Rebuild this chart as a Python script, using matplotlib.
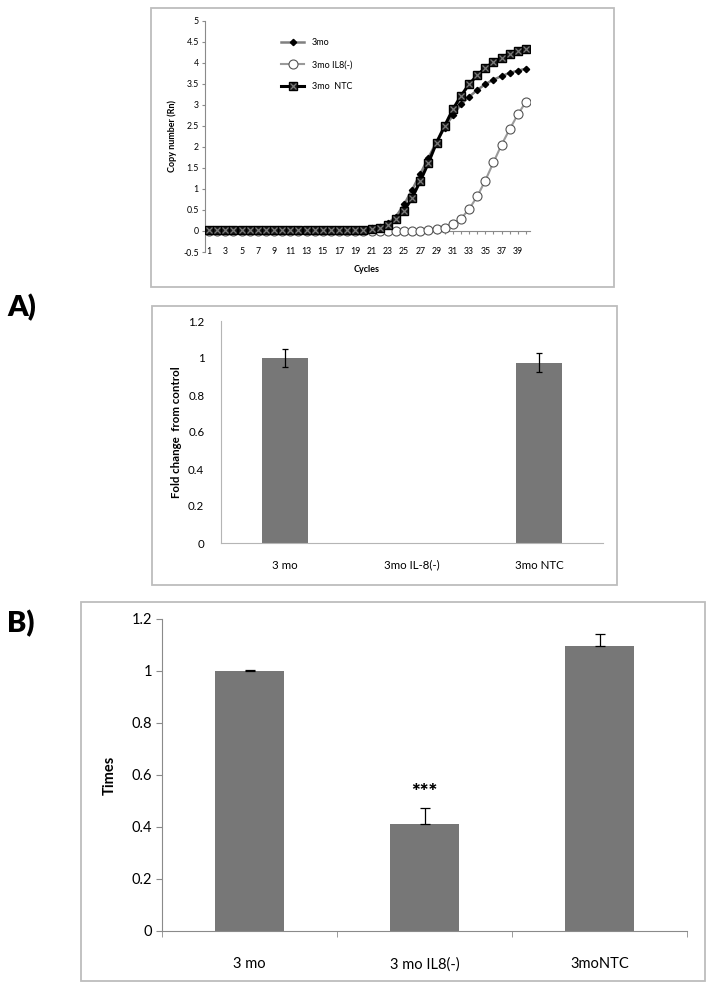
import matplotlib
matplotlib.use('Agg')
import matplotlib.pyplot as plt
from matplotlib.patches import Rectangle
from matplotlib.lines import Line2D
from matplotlib.legend_handler import HandlerTuple

plt.rcParams['font.family'] = ['Lato', 'DejaVu Sans']

# ---------------- data ----------------
cycles = list(range(1, 41))
cycle_labels = [str(c) for c in range(1, 40, 2)]
series_3mo = [0.02, 0.02, 0.02, 0.02, 0.02, 0.02, 0.02, 0.02, 0.02, 0.02,
              0.02, 0.02, 0.02, 0.02, 0.02, 0.02, 0.02, 0.02, 0.02, 0.03,
              0.06, 0.10, 0.18, 0.34, 0.63, 0.98, 1.36, 1.74, 2.12, 2.46,
              2.75, 3.01, 3.19, 3.35, 3.49, 3.60, 3.68, 3.76, 3.81, 3.86]
series_il8 = [0.01, 0.01, 0.01, 0.01, 0.01, 0.01, 0.01, 0.01, 0.01, 0.01,
              0.01, 0.01, 0.01, 0.01, 0.01, 0.01, 0.01, 0.01, 0.01, 0.01,
              0.0, 0.0, 0.0, 0.0, 0.0, 0.0, 0.01, 0.02, 0.05, 0.08,
              0.16, 0.29, 0.52, 0.82, 1.20, 1.63, 2.05, 2.42, 2.77, 3.07]
series_ntc = [0.02, 0.02, 0.02, 0.02, 0.02, 0.02, 0.02, 0.02, 0.02, 0.02,
              0.02, 0.02, 0.02, 0.02, 0.02, 0.02, 0.02, 0.02, 0.02, 0.03,
              0.05, 0.08, 0.14, 0.28, 0.48, 0.79, 1.19, 1.62, 2.10, 2.50,
              2.89, 3.21, 3.49, 3.70, 3.88, 4.01, 4.12, 4.22, 4.28, 4.33]
series_names = ['3mo', '3mo IL8(-)', '3mo  NTC']

mid_cats = ['3 mo', '3mo IL-8(-)', '3mo NTC']
mid_vals = [1.0, 0.0, 0.975]
mid_err = [0.048, 0.0, 0.05]

bot_cats = ['3 mo', '3 mo IL8(-)', '3moNTC']
bot_vals = [1.0, 0.41, 1.097]
bot_err_up = [0.002, 0.062, 0.045]
bot_sig = ['', '***', '']

# ---------------- figure ----------------
W, H = 714, 991
fig = plt.figure(figsize=(W / 100, H / 100), dpi=100)

def fx(px):
    return px / W

def fy(py):
    return 1 - py / H

frame_col = '#bdbdbd'
axis_col = '#8a8a8a'
bar_col = '#777777'

# panel frames
for (x0, y0, x1, y1) in [(151, 8, 614, 287), (152, 306, 617, 585), (81, 602, 705, 981)]:
    fig.patches.append(Rectangle((fx(x0), fy(y1)), fx(x1) - fx(x0), fy(y0) - fy(y1),
                                 transform=fig.transFigure, fill=False,
                                 edgecolor=frame_col, lw=1.3))

# panel letters
fig.text(fx(7), fy(308), 'A)', fontsize=21, fontweight='heavy', va='center', ha='left')
fig.text(fx(7), fy(624), 'B)', fontsize=21, fontweight='heavy', va='center', ha='left')

# ---------------- top: amplification curves ----------------
ax1 = fig.add_axes([fx(205), fy(252), fx(530) - fx(205), fy(20.7) - fy(252)])
ax1.set_xlim(0.5, 40.5)
ax1.set_ylim(-0.5, 5)

ax1.plot(cycles, series_3mo, color='#808080', lw=1.8, marker='D', ms=3.2,
         mfc='black', mec='black', zorder=3)
ax1.plot(cycles, series_il8, color='#9a9a9a', lw=1.5, marker='o', ms=6.5,
         mfc='white', mec='#555555', mew=0.8, zorder=3)
ax1.plot(cycles, series_ntc, color='black', lw=2.2, marker='s', ms=6,
         mfc='#1a1a1a', mec='black', zorder=4)
ax1.plot(cycles, series_ntc, ls='none', marker='x', ms=5, mec='#7a7a7a',
         mew=0.9, zorder=5)

for side in ['top', 'right', 'bottom']:
    ax1.spines[side].set_visible(False)
ax1.spines['left'].set_color(axis_col)
ax1.set_yticks([-0.5, 0, 0.5, 1, 1.5, 2, 2.5, 3, 3.5, 4, 4.5, 5])
ax1.set_yticklabels(['-0.5', '0', '0.5', '1', '1.5', '2', '2.5', '3', '3.5', '4', '4.5', '5'])
ax1.tick_params(axis='y', length=2.5, color=axis_col, labelsize=6.3, pad=2)
ax1.set_xticks(list(range(1, 40, 2)))
ax1.set_xticklabels(cycle_labels)
ax1.tick_params(axis='x', length=0, labelsize=6.3, pad=0)
for lab in ax1.get_xticklabels():
    lab.set_va('center')

zero_loc = (0 - (-0.5)) / 5.5
sec = ax1.secondary_xaxis(zero_loc)
sec.set_xticks(cycles)
sec.tick_params(axis='x', length=2, color=axis_col, labelbottom=False, direction='out')
sec.spines['bottom'].set_color(axis_col)

fig.text(fx(367), fy(270), 'Cycles', fontsize=6.5, fontweight='bold', ha='center', va='center')
fig.text(fx(172), fy(136), 'Copy number (Rn)', fontsize=6.5, fontweight='bold',
         ha='center', va='center', rotation=90)

h1 = Line2D([], [], color='#808080', lw=1.8, marker='D', ms=3.2, mfc='black', mec='black')
h2 = Line2D([], [], color='#9a9a9a', lw=1.5, marker='o', ms=6.5, mfc='white', mec='#555555', mew=0.8)
h3a = Line2D([], [], color='black', lw=2.2, marker='s', ms=6, mfc='#1a1a1a', mec='black')
h3b = Line2D([], [], ls='none', marker='x', ms=5, mec='#7a7a7a', mew=0.9)
ax1.legend([h1, h2, (h3a, h3b)], series_names,
           handler_map={tuple: HandlerTuple(ndivide=1)},
           loc='upper left', bbox_to_anchor=(fx(281), fy(38)),
           bbox_transform=fig.transFigure, frameon=False, fontsize=6.5,
           handlelength=2.6, labelspacing=1.45, borderpad=0, borderaxespad=0,
           handletextpad=0.8)

# ---------------- middle: fold change ----------------
ax2 = fig.add_axes([fx(221), fy(543), fx(603) - fx(221), fy(321) - fy(543)])
xpos = list(range(len(mid_cats)))
ax2.bar(xpos, mid_vals, width=0.36, color=bar_col, zorder=2)
err_x = [x for x, e in zip(xpos, mid_err) if e > 0]
err_y = [v for v, e in zip(mid_vals, mid_err) if e > 0]
err_e = [e for e in mid_err if e > 0]
ax2.errorbar(err_x, err_y, yerr=err_e, fmt='none', ecolor='black', elinewidth=0.9,
             capsize=2.5, capthick=0.9, zorder=3)
ax2.set_xlim(-0.5, 2.5)
ax2.set_ylim(0, 1.2)
ax2.set_yticks([0, 0.2, 0.4, 0.6, 0.8, 1.0, 1.2])
ax2.set_yticklabels(['0', '0.2', '0.4', '0.6', '0.8', '1', '1.2'])
ax2.set_xticks(xpos)
ax2.set_xticklabels(mid_cats)
ax2.tick_params(axis='y', length=0, labelsize=8.3, pad=12)
ax2.tick_params(axis='x', length=0, labelsize=8.3, pad=12)
for side in ['top', 'right']:
    ax2.spines[side].set_visible(False)
ax2.spines['left'].set_color('#b5b5b5')
ax2.spines['bottom'].set_color('#b5b5b5')
fig.text(fx(176), fy(432), 'Fold change  from control', fontsize=8.3, fontweight='bold',
         ha='center', va='center', rotation=90)

# ---------------- bottom: times ----------------
ax3 = fig.add_axes([fx(162), fy(931), fx(687) - fx(162), fy(619) - fy(931)])
xpos3 = list(range(len(bot_cats)))
ax3.bar(xpos3, bot_vals, width=0.39, color=bar_col, zorder=2)
ax3.errorbar(xpos3, bot_vals, yerr=[[0, 0, 0], bot_err_up], fmt='none', ecolor='black',
             elinewidth=0.9, capsize=3.5, capthick=0.9, zorder=3)
for x, v, e, s in zip(xpos3, bot_vals, bot_err_up, bot_sig):
    if s:
        ax3.text(x, v + e + 0.025, s, ha='center', va='bottom', fontsize=15,
                 fontweight='heavy')
ax3.set_xlim(-0.5, 2.5)
ax3.set_ylim(0, 1.2)
ax3.set_yticks([0, 0.2, 0.4, 0.6, 0.8, 1.0, 1.2])
ax3.set_yticklabels(['0', '0.2', '0.4', '0.6', '0.8', '1', '1.2'])
ax3.set_xticks(xpos3)
ax3.set_xticklabels(bot_cats)
ax3.set_xticks([-0.5, 0.5, 1.5, 2.5], minor=True)
ax3.tick_params(axis='y', length=4, color=axis_col, labelsize=10.5, pad=3)
ax3.tick_params(axis='x', which='major', length=0, labelsize=10.5, pad=19)
ax3.tick_params(axis='x', which='minor', length=4, color=axis_col)
for side in ['top', 'right']:
    ax3.spines[side].set_visible(False)
ax3.spines['left'].set_color(axis_col)
ax3.spines['bottom'].set_color(axis_col)
fig.text(fx(110), fy(775), 'Times', fontsize=10.5, fontweight='bold',
         ha='center', va='center', rotation=90)

fig.savefig('out.png', dpi=100)
